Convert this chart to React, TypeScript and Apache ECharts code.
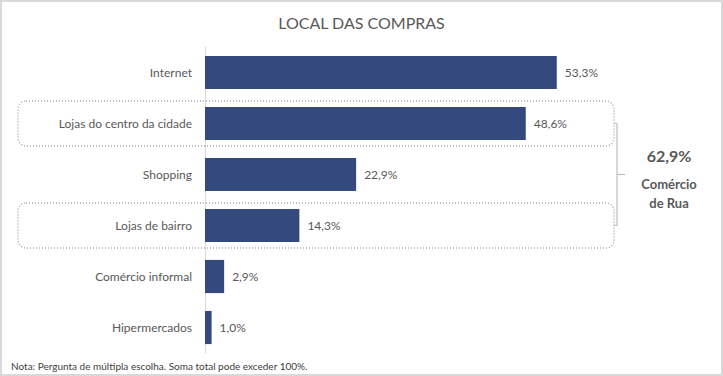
import React, { useEffect, useRef } from "react";
import * as echarts from "echarts";

const title = "LOCAL DAS COMPRAS";
const categories = [
  "Internet",
  "Lojas do centro da cidade",
  "Shopping",
  "Lojas de bairro",
  "Comércio informal",
  "Hipermercados",
];
const values = [53.3, 48.6, 22.9, 14.3, 2.9, 1.0];
const groupedCategories = ["Lojas do centro da cidade", "Lojas de bairro"];
const groupTotal = "62,9%";
const groupLabel = ["Comércio", "de Rua"];
const note = "Nota: Pergunta de múltipla escolha. Soma total pode exceder 100%.";

const FONT = "Lato, 'Open Sans', sans-serif";
const TEXT = "#595959";
const BAR = "#344a7e";

const fmt = (v: number) => v.toFixed(1).replace(".", ",") + "%";

export default function App() {
  const ref = useRef<HTMLDivElement>(null);
  useEffect(() => {
    if (!ref.current) return;
    const chart = echarts.init(ref.current, null, { renderer: "svg" });
    chart.setOption({
      animation: false,
      backgroundColor: "#ffffff",
      textStyle: { fontFamily: FONT },
      title: {
        text: title,
        left: "center",
        top: 9,
        textStyle: { fontFamily: FONT, fontSize: 16, fontWeight: "normal", color: TEXT },
      },
      grid: { left: 205, top: 47, width: 396, height: 306, containLabel: false },
      xAxis: {
        type: "value",
        min: 0,
        max: 60,
        show: false,
        splitLine: { show: false },
      },
      yAxis: {
        type: "category",
        data: categories,
        inverse: true,
        axisLine: { show: true, lineStyle: { color: "#d9d9d9", width: 1 } },
        axisTick: { show: false },
        axisLabel: { color: TEXT, fontSize: 12, fontFamily: FONT, margin: 13 },
      },
      series: [
        {
          type: "bar",
          data: values,
          barCategoryGap: "35%",
          itemStyle: { color: BAR },
          label: {
            show: true,
            position: "right",
            distance: 8,
            color: TEXT,
            fontSize: 12,
            fontFamily: FONT,
            formatter: (p: any) => fmt(p.value),
          },
        },
      ],
    });

    const yOf = (c: string) => chart.convertToPixel({ yAxisIndex: 0 }, c) as number;
    const y1 = yOf(groupedCategories[0]);
    const y2 = yOf(groupedCategories[1]);
    const ym = (y1 + y2) / 2;
    const dotted = {
      fill: "none",
      stroke: "#a9a9a9",
      lineWidth: 1.5,
      lineDash: [1, 2],
    };
    const bx = 617;
    const graphic: any[] = [
      {
        type: "rect",
        shape: { x: 1, y: 1, width: 721, height: 374 },
        style: { fill: "none", stroke: "#d9d9d9", lineWidth: 2 },
        silent: true,
      },
      ...groupedCategories.map((c) => ({
        type: "rect",
        shape: { x: 18, y: yOf(c) - 22.5, width: 596, height: 45, r: 8 },
        style: dotted,
        silent: true,
      })),
      {
        type: "polyline",
        shape: { points: [[bx - 3, y1], [bx, y1], [bx, y2], [bx - 3, y2]] },
        style: { fill: "none", stroke: "#bfbfbf", lineWidth: 1.2 },
      },
      {
        type: "line",
        shape: { x1: bx, y1: ym, x2: bx + 8, y2: ym },
        style: { stroke: "#bfbfbf", lineWidth: 1.2 },
      },
      {
        type: "text",
        x: 669,
        y: ym - 19,
        style: {
          text: groupTotal,
          fill: TEXT,
          font: `bold 16px ${FONT}`,
          textAlign: "center",
          textVerticalAlign: "middle",
        },
      },
      {
        type: "text",
        x: 669,
        y: ym + 9,
        style: {
          text: groupLabel[0],
          fill: TEXT,
          font: `bold 13px ${FONT}`,
          textAlign: "center",
          textVerticalAlign: "middle",
        },
      },
      {
        type: "text",
        x: 669,
        y: ym + 28,
        style: {
          text: groupLabel[1],
          fill: TEXT,
          font: `bold 13px ${FONT}`,
          textAlign: "center",
          textVerticalAlign: "middle",
        },
      },
      {
        type: "text",
        x: 11,
        y: 366,
        style: {
          text: note,
          fill: "#404040",
          font: `10px ${FONT}`,
          textAlign: "left",
          textVerticalAlign: "middle",
        },
      },
    ];
    chart.setOption({ graphic });
    return () => chart.dispose();
  }, []);
  return (
    <div
      ref={ref}
      style={{ position: "fixed", left: 0, top: 0, width: 723, height: 376 }}
    />
  );
}
